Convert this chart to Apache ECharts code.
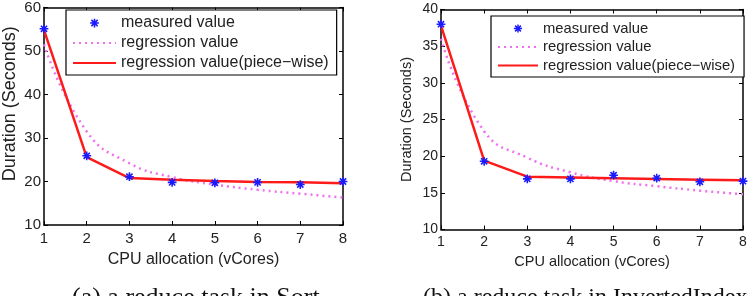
<!DOCTYPE html>
<html>
<head>
<meta charset="utf-8">
<script src="https://cdn.jsdelivr.net/npm/echarts@6/dist/echarts.min.js"></script>
<style>
  html, body { margin: 0; padding: 0; background: #fff; }
  #main { width: 750px; height: 296px; }
</style>
</head>
<body>
<div id="main"></div>
<script>
// 数据：CPU 分配 (vCores) 与任务时长
var vCores = [1, 2, 3, 4, 5, 6, 7, 8];

// (a) Sort
var sortMeasured   = [55.1, 25.9, 21.1, 19.8, 19.7, 19.8, 19.3, 20.0];
var sortRegression = [51.5, 31.5, 24.2, 21.0, 19.3, 18.1, 17.2, 16.3];
var sortPiecewise  = [54.8, 25.6, 20.8, 20.4, 20.1, 19.9, 19.8, 19.6];

// (b) InvertedIndex
var invMeasured   = [38.0, 19.3, 16.9, 16.9, 17.4, 17.0, 16.5, 16.6];
var invRegression = [36.0, 23.4, 19.8, 17.8, 16.6, 15.9, 15.3, 14.8];
var invPiecewise  = [37.8, 19.4, 17.2, 17.1, 17.0, 16.9, 16.8, 16.7];

var legendNames = ['measured value', 'regression value', 'regression value(piece\u2212wise)'];
var captions = ['(a) a reduce task in Sort', '(b) a reduce task in InvertedIndex'];

function pairs(ys) {
    return vCores.map(function (x, i) { return [x, ys[i]]; });
}

// matlab 风格的星号
var star = 'path://M-8,-8L-8,-8M8,8L8,8' +
    'M-0.9,-5L0.9,-5L0.9,5L-0.9,5Z' +
    'M-5,-0.9L5,-0.9L5,0.9L-5,0.9Z' +
    'M-2.9,-4.18L4.18,2.9L2.9,4.18L-4.18,-2.9Z' +
    'M2.9,-4.18L4.18,-2.9L-2.9,4.18L-4.18,2.9Z';

var font = 'Liberation Sans';
var txt = '#222';

function xAxes(grid, fs, margin, nameFs, nameGap) {
    return [{
        gridIndex: grid, type: 'value', min: 1, max: 8, interval: 1,
        name: 'CPU allocation (vCores)', nameLocation: 'middle', nameGap: nameGap,
        nameTextStyle: { fontFamily: font, fontSize: nameFs, color: txt },
        axisLine: { lineStyle: { color: '#000', width: 1.5 } },
        axisTick: { inside: true, length: 4, lineStyle: { color: '#000' } },
        axisLabel: { fontFamily: font, fontSize: fs, color: txt, margin: margin },
        splitLine: { show: false }
    }, {
        gridIndex: grid, type: 'value', position: 'top', min: 1, max: 8, interval: 1,
        axisLine: { lineStyle: { color: '#000', width: 1.5 } },
        axisTick: { inside: true, length: 4, lineStyle: { color: '#000' } },
        axisLabel: { show: false },
        splitLine: { show: false }
    }];
}

function yAxes(grid, min, max, interval, fs, nameFs, nameGap, shift) {
    return [{
        gridIndex: grid, type: 'value', min: min, max: max, interval: interval,
        name: 'Duration (Seconds)', nameLocation: 'middle', nameGap: nameGap,
        nameTextStyle: { fontFamily: font, fontSize: nameFs, color: txt, padding: [0, 0, 0, shift] },
        axisLine: { lineStyle: { color: '#000', width: 1.5 } },
        axisTick: { inside: true, length: 4, lineStyle: { color: '#000' } },
        axisLabel: { fontFamily: font, fontSize: fs, color: txt, margin: 3 },
        splitLine: { show: false }
    }, {
        gridIndex: grid, type: 'value', position: 'right', min: min, max: max, interval: interval,
        axisLine: { lineStyle: { color: '#000', width: 1.5 } },
        axisTick: { inside: true, length: 4, lineStyle: { color: '#000' } },
        axisLabel: { show: false },
        splitLine: { show: false }
    }];
}

function seriesFor(xi, yi, measured, regression, piecewise) {
    return [{
        name: legendNames[1], type: 'line', xAxisIndex: xi, yAxisIndex: yi,
        data: pairs(regression), smooth: true, symbol: 'none', z: 2,
        lineStyle: { color: '#f070f0', width: 2.5, type: [2, 4] },
        itemStyle: { color: '#f070f0' }
    }, {
        name: legendNames[2], type: 'line', xAxisIndex: xi, yAxisIndex: yi,
        data: pairs(piecewise), symbol: 'none', z: 3,
        lineStyle: { color: '#ff1a1a', width: 2.5 },
        itemStyle: { color: '#ff1a1a' }
    }, {
        name: legendNames[0], type: 'scatter', xAxisIndex: xi, yAxisIndex: yi,
        data: pairs(measured), symbol: star, symbolSize: 14, z: 4,
        itemStyle: { color: '#1a1aff', opacity: 1 }
    }];
}

function legendAt(left, top, itemWidth, itemHeight, gap, fs, padRight) {
    return {
        left: left, top: top, orient: 'vertical',
        data: [
            { name: legendNames[0] },
            { name: legendNames[1], itemStyle: { opacity: 0 } },
            { name: legendNames[2], itemStyle: { opacity: 0 } }
        ],
        selectedMode: false,
        itemWidth: itemWidth, itemHeight: itemHeight, itemGap: gap,
        padding: [5, padRight, 4, 6],
        borderColor: '#000', borderWidth: 1.2, backgroundColor: '#fff',
        textStyle: { fontFamily: font, fontSize: fs, color: txt }
    };
}

var option = {
    animation: false,
    backgroundColor: '#fff',
    grid: [
        { left: 42, top: 4, width: 301, height: 221 },
        { left: 441, top: 9.5, width: 302, height: 220 }
    ],
    xAxis: xAxes(0, 15, 6.5, 16, 25).concat(xAxes(1, 14, 5.7, 14.5, 21.5)),
    yAxis: yAxes(0, 10, 60, 10, 15, 18, 25, 25).concat(yAxes(1, 10, 40, 5, 14, 14.5, 27, 0)),
    legend: [
        legendAt(66, 10, 43, 14, 4, 16, 8),
        legendAt(491, 16, 40, 13, 3.5, 14.8, 9)
    ],
    graphic: [
        { type: 'text', left: 72, top: 285,
          style: { text: captions[0], font: '26px "Liberation Serif"', fill: '#111' } },
        { type: 'text', left: 423, top: 286,
          style: { text: captions[1], font: '24px "Liberation Serif"', fill: '#111' } }
    ],
    series: seriesFor(0, 0, sortMeasured, sortRegression, sortPiecewise)
        .concat(seriesFor(2, 2, invMeasured, invRegression, invPiecewise))
};

var myChart = echarts.init(document.getElementById('main'));
myChart.setOption(option);
</script>
</body>
</html>
